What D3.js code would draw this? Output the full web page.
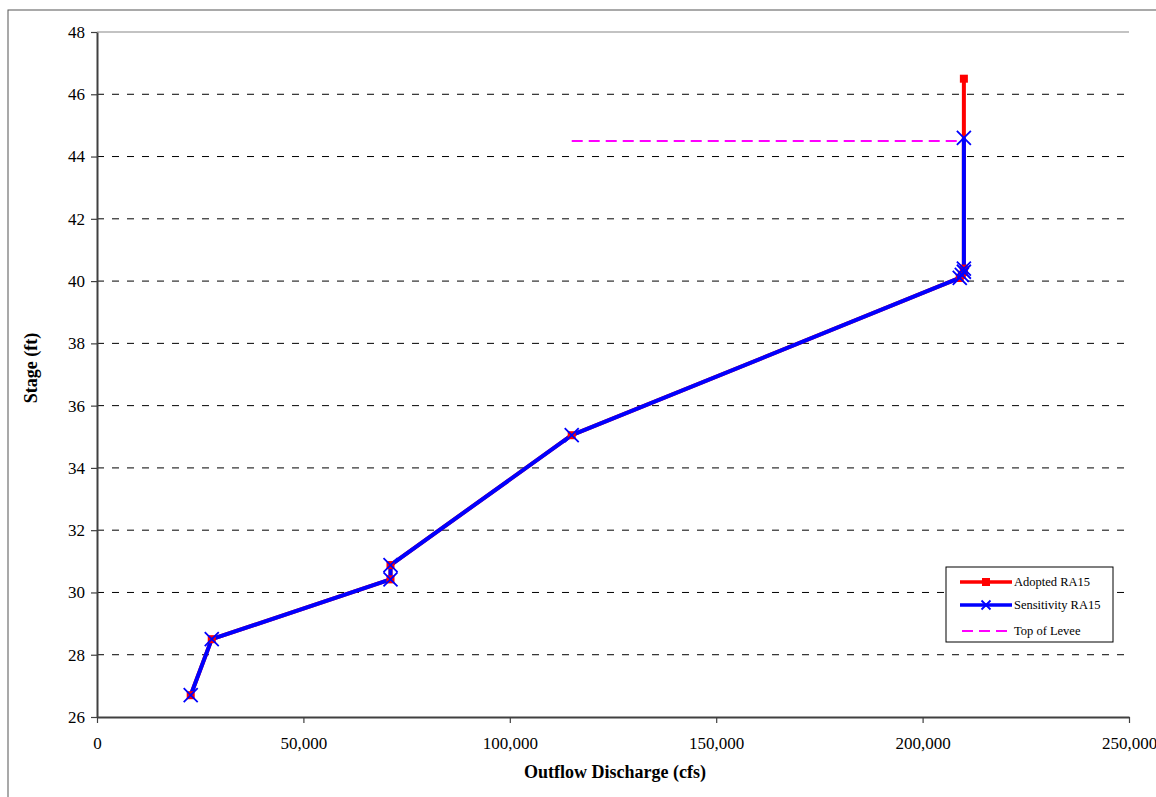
<!DOCTYPE html>
<html>
<head>
<meta charset="utf-8">
<script src="https://cdn.jsdelivr.net/npm/d3@7"></script>
<style>
  html, body { margin: 0; padding: 0; background: #fff; }
  svg { display: block; }
  text { font-family: "Liberation Serif", "Times New Roman", serif !important; fill: #000; }
</style>
</head>
<body>
<svg id="chart" width="1156" height="797"></svg>
<script>
// ---- data ----
const adoptedDischarge = [22700, 27800, 71100, 71100, 115000, 209000, 209500, 210000, 210000, 210000];
const adoptedStage     = [26.7, 28.5, 30.42, 30.88, 35.05, 40.1, 40.2, 40.3, 40.4, 46.5];
const sensitivityDischarge = [22700, 27800, 71100, 71100, 115000, 209000, 209500, 210000, 210000, 210000];
const sensitivityStage     = [26.7, 28.5, 30.42, 30.88, 35.05, 40.1, 40.2, 40.3, 40.4, 44.6];
const leveeDischarge = [115000, 210000];
const leveeStage     = [44.5, 44.5];
const xTicks = [0, 50000, 100000, 150000, 200000, 250000];
const yTicks = [26, 28, 30, 32, 34, 36, 38, 40, 42, 44, 46, 48];
const seriesNames = ["Adopted RA15", "Sensitivity RA15", "Top of Levee"];
const xTitle = "Outflow Discharge (cfs)";
const yTitle = "Stage (ft)";

const svg = d3.select("#chart");
const L = 97, R = 1129, T = 32, B = 717;
const x = d3.scaleLinear().domain([0, 250000]).range([L, R]);
const y = d3.scaleLinear().domain([26, 48]).range([B, T]);

// outer frame
svg.append("rect").attr("x", 8).attr("y", 10).attr("width", 1200).attr("height", 900)
  .attr("fill", "none").attr("stroke", "#555").attr("stroke-width", 1);

// gridlines
svg.append("g").selectAll("line").data(yTicks.filter(d => d > 26 && d < 48)).join("line")
  .attr("x1", L).attr("x2", R).attr("y1", d => y(d)).attr("y2", d => y(d))
  .attr("stroke", "#000").attr("stroke-width", 1).attr("stroke-dasharray", "7,8");
svg.append("line").attr("x1", L).attr("x2", R).attr("y1", y(48)).attr("y2", y(48))
  .attr("stroke", "#888").attr("stroke-width", 1.2);

// axes
const xAxis = svg.append("g").attr("transform", `translate(0,${B})`)
  .call(d3.axisBottom(x).tickValues(xTicks).tickSize(6).tickSizeOuter(0).tickFormat(d3.format(",")));
const yAxis = svg.append("g").attr("transform", `translate(${L},0)`)
  .call(d3.axisLeft(y).tickValues(yTicks).tickSize(6).tickSizeOuter(0).tickFormat(d3.format("d")));
[xAxis, yAxis].forEach(a => {
  a.attr("font-family", "Liberation Serif, serif").attr("font-size", 17);
  a.select(".domain").attr("stroke", "#404040").attr("stroke-width", 2);
  a.selectAll(".tick line").attr("stroke", "#404040").attr("stroke-width", 1.2);
  a.selectAll("text").attr("font-size", 17).attr("fill", "#000");
});
xAxis.selectAll("text").attr("dy", null).attr("y", 32);
yAxis.selectAll("text").attr("x", -12);

// titles
svg.append("text").attr("x", 615).attr("y", 778).attr("text-anchor", "middle")
  .attr("font-size", 18).attr("font-weight", "bold").text(xTitle);
svg.append("text").attr("transform", "translate(37,368) rotate(-90)").attr("text-anchor", "middle")
  .attr("font-size", 18).attr("font-weight", "bold").text(yTitle);

// series
const adopted = adoptedDischarge.map((d, i) => [d, adoptedStage[i]]);
const sens = sensitivityDischarge.map((d, i) => [d, sensitivityStage[i]]);
const levee = leveeDischarge.map((d, i) => [d, leveeStage[i]]);
const line = d3.line().x(d => x(d[0])).y(d => y(d[1]));

svg.append("path").attr("d", line(levee)).attr("fill", "none")
  .attr("stroke", "#ff00ff").attr("stroke-width", 2).attr("stroke-dasharray", "11,6");
svg.append("path").attr("d", line(adopted)).attr("fill", "none")
  .attr("stroke", "#ff0000").attr("stroke-width", 4).attr("stroke-linejoin", "round");
svg.append("path").attr("d", line(sens)).attr("fill", "none")
  .attr("stroke", "#0000ff").attr("stroke-width", 4).attr("stroke-linejoin", "round");

const sq = 8, xs = 7;
svg.append("g").selectAll("rect").data(adopted).join("rect")
  .attr("x", d => x(d[0]) - sq / 2).attr("y", d => y(d[1]) - sq / 2)
  .attr("width", sq).attr("height", sq).attr("fill", "#ff0000");
svg.append("g").selectAll("path").data(sens).join("path")
  .attr("d", d => {
    const cx = x(d[0]), cy = y(d[1]);
    return `M${cx - xs},${cy - xs}L${cx + xs},${cy + xs}M${cx - xs},${cy + xs}L${cx + xs},${cy - xs}`;
  })
  .attr("stroke", "#0000ff").attr("stroke-width", 1.8).attr("fill", "none");

// legend
const lg = svg.append("g");
lg.append("rect").attr("x", 946).attr("y", 567).attr("width", 167).attr("height", 75)
  .attr("fill", "#fff").attr("stroke", "#000").attr("stroke-width", 1);
const rowsY = [582, 605, 631];
const lx1 = 960, lx2 = 1012;
// Adopted
lg.append("line").attr("x1", lx1).attr("x2", lx2).attr("y1", rowsY[0]).attr("y2", rowsY[0])
  .attr("stroke", "#ff0000").attr("stroke-width", 3.5);
lg.append("rect").attr("x", (lx1 + lx2) / 2 - 4).attr("y", rowsY[0] - 4)
  .attr("width", 8).attr("height", 8).attr("fill", "#ff0000");
// Sensitivity
lg.append("line").attr("x1", lx1).attr("x2", lx2).attr("y1", rowsY[1]).attr("y2", rowsY[1])
  .attr("stroke", "#0000ff").attr("stroke-width", 3.5);
{
  const cx = (lx1 + lx2) / 2, cy = rowsY[1], s = 4.5;
  lg.append("path").attr("d", `M${cx - s},${cy - s}L${cx + s},${cy + s}M${cx - s},${cy + s}L${cx + s},${cy - s}`)
    .attr("stroke", "#0000ff").attr("stroke-width", 1.8);
}
// Levee
lg.append("line").attr("x1", lx1 + 2).attr("x2", lx2 - 2).attr("y1", rowsY[2]).attr("y2", rowsY[2])
  .attr("stroke", "#ff00ff").attr("stroke-width", 2).attr("stroke-dasharray", "11,6");
lg.selectAll("text.lbl").data(seriesNames).join("text").attr("class", "lbl")
  .attr("x", 1014).attr("y", (d, i) => rowsY[i] + 4).attr("font-size", 12.5).text(d => d);
</script>
</body>
</html>
